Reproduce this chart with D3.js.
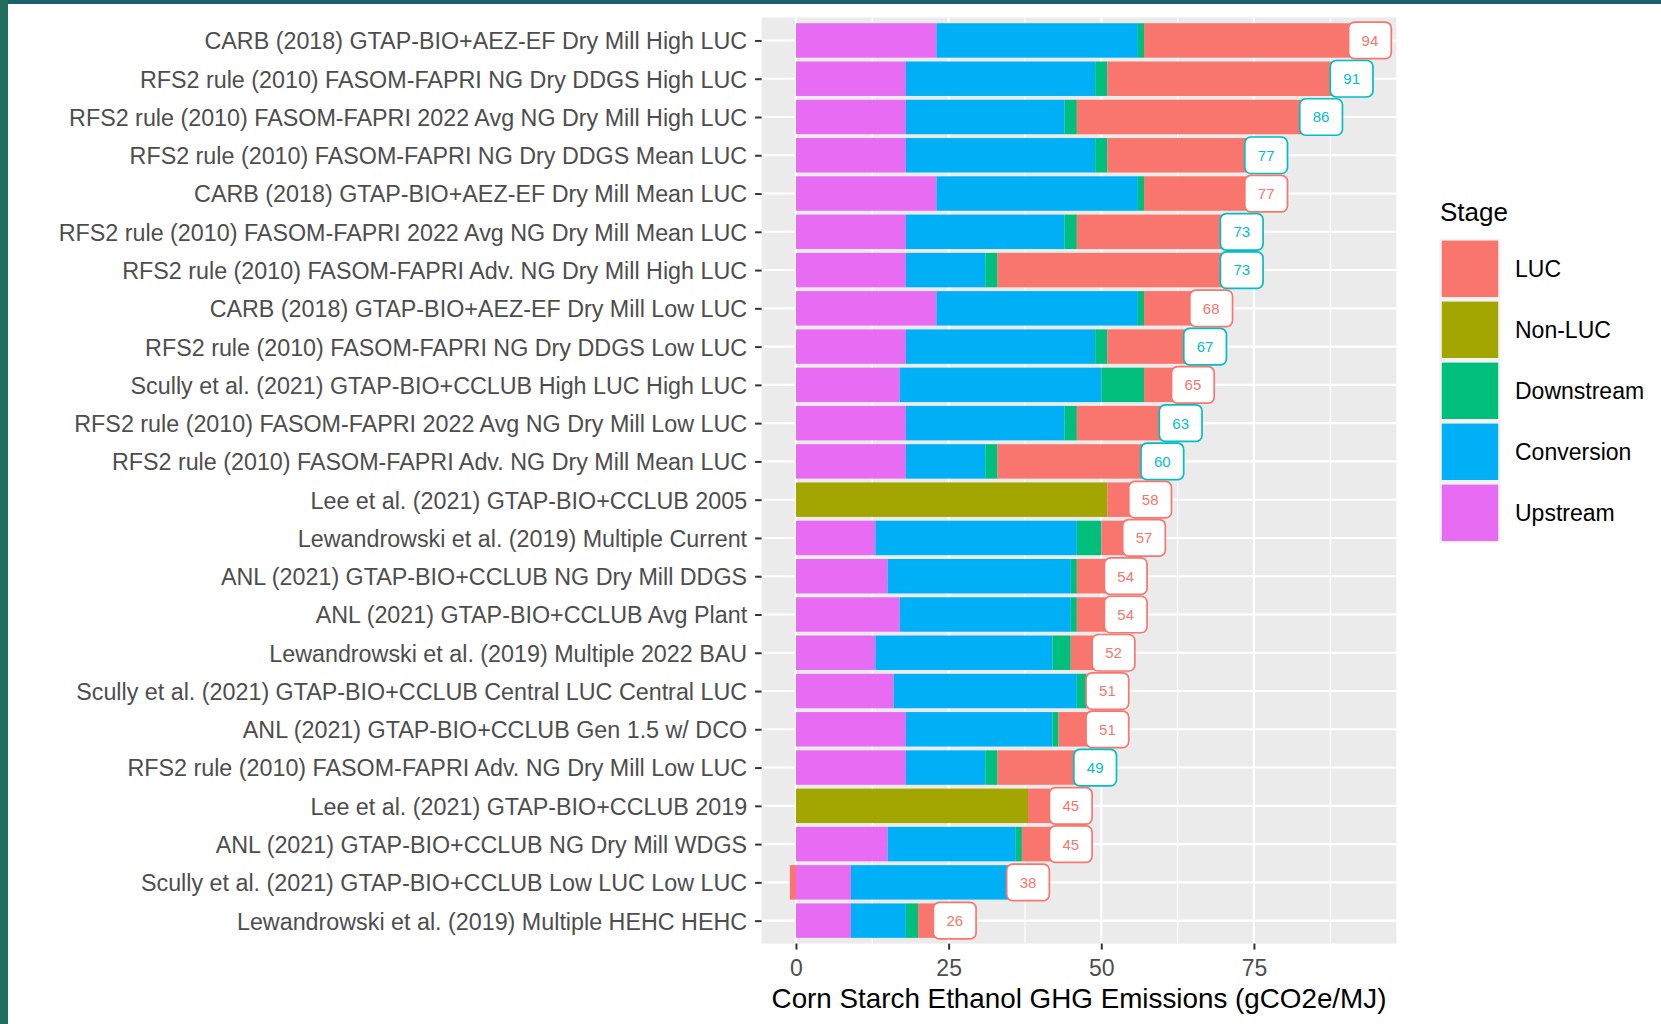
<!DOCTYPE html>
<html><head><meta charset="utf-8">
<script src="https://cdn.jsdelivr.net/npm/d3@7"></script>
<style>
body{margin:0;background:#fff}
svg{display:block;font-family:"Liberation Sans",Arial,sans-serif}
</style>
</head><body><svg id="c" width="1661" height="1024"></svg>
<script>
// ---------------- DATA ----------------
const categories = [
  "CARB (2018) GTAP-BIO+AEZ-EF Dry Mill High LUC",
  "RFS2 rule (2010) FASOM-FAPRI NG Dry DDGS High LUC",
  "RFS2 rule (2010) FASOM-FAPRI 2022 Avg NG Dry Mill High LUC",
  "RFS2 rule (2010) FASOM-FAPRI NG Dry DDGS Mean LUC",
  "CARB (2018) GTAP-BIO+AEZ-EF Dry Mill Mean LUC",
  "RFS2 rule (2010) FASOM-FAPRI 2022 Avg NG Dry Mill Mean LUC",
  "RFS2 rule (2010) FASOM-FAPRI Adv. NG Dry Mill High LUC",
  "CARB (2018) GTAP-BIO+AEZ-EF Dry Mill Low LUC",
  "RFS2 rule (2010) FASOM-FAPRI NG Dry DDGS Low LUC",
  "Scully et al. (2021) GTAP-BIO+CCLUB High LUC High LUC",
  "RFS2 rule (2010) FASOM-FAPRI 2022 Avg NG Dry Mill Low LUC",
  "RFS2 rule (2010) FASOM-FAPRI Adv. NG Dry Mill Mean LUC",
  "Lee et al. (2021) GTAP-BIO+CCLUB 2005",
  "Lewandrowski et al. (2019) Multiple Current",
  "ANL (2021) GTAP-BIO+CCLUB NG Dry Mill DDGS",
  "ANL (2021) GTAP-BIO+CCLUB Avg Plant",
  "Lewandrowski et al. (2019) Multiple 2022 BAU",
  "Scully et al. (2021) GTAP-BIO+CCLUB Central LUC Central LUC",
  "ANL (2021) GTAP-BIO+CCLUB Gen 1.5 w/ DCO",
  "RFS2 rule (2010) FASOM-FAPRI Adv. NG Dry Mill Low LUC",
  "Lee et al. (2021) GTAP-BIO+CCLUB 2019",
  "ANL (2021) GTAP-BIO+CCLUB NG Dry Mill WDGS",
  "Scully et al. (2021) GTAP-BIO+CCLUB Low LUC Low LUC",
  "Lewandrowski et al. (2019) Multiple HEHC HEHC"
];
const upstream   = [23,18,18,18,23,18,18,23,18,17,18,18, 0,13,15,17,13,16,18,18, 0,15, 9, 9];
const conversion = [33,31,26,31,33,26,13,33,31,33,26,13, 0,33,30,28,29,30,24,13, 0,21,28.5,9];
const downstream = [ 1, 2, 2, 2, 1, 2, 2, 1, 2, 7, 2, 2, 0, 4, 1, 1, 3,1.5,1, 2, 0, 1,1.5,2];
const nonLUC     = [ 0, 0, 0, 0, 0, 0, 0, 0, 0, 0, 0, 0,51, 0, 0, 0, 0, 0, 0, 0,38, 0, 0, 0];
const luc        = [37,40,40,26,20,27,40,11,16, 8,17,27, 7, 7, 8, 8, 7,3.5,8,16, 7, 8,-1, 6];
const labelGroup = ["Other","RFS2","RFS2","RFS2","Other","RFS2","RFS2","Other","RFS2","Other","RFS2","RFS2",
                    "Other","Other","Other","Other","Other","Other","Other","RFS2","Other","Other","Other","Other"];

const stages = ["LUC","Non-LUC","Downstream","Conversion","Upstream"];
const stageColors = ["#F8766D","#A3A500","#00BF7D","#00B0F6","#E76BF3"];
const stackOrder = ["Upstream","Conversion","Downstream","Non-LUC","LUC"];
const labelColors = {Other:"#F8766D", RFS2:"#00BFC4"};
const xTicks = [0,25,50,75];
const xMinorTicks = [12.5,37.5,62.5,87.5];
const xDomain = [-5.63, 98.33];
const xTitle = "Corn Starch Ethanol GHG Emissions (gCO2e/MJ)";
const legendTitle = "Stage";

// ---------------- LAYOUT ----------------
const svg = d3.select("#c");
const P = {l:761.6, r:1396.4, t:17.5, b:943.6};

svg.append("rect").attr("x",0).attr("y",0).attr("width",1661).attr("height",1024).attr("fill","#fff");
svg.append("rect").attr("x",0).attr("y",0).attr("width",1661).attr("height",4).attr("fill","#1b5f68");
svg.append("rect").attr("x",0).attr("y",0).attr("width",8).attr("height",1024).attr("fill","#216e5e");

const rows = categories.map((c,i)=>({
  cat:c, "Upstream":upstream[i], "Conversion":conversion[i], "Downstream":downstream[i],
  "Non-LUC":nonLUC[i], "LUC":luc[i], group:labelGroup[i],
  total: upstream[i]+conversion[i]+downstream[i]+nonLUC[i]+luc[i]
}));

const x = d3.scaleLinear().domain(xDomain).range([P.l,P.r]);
const y = d3.scalePoint().domain(categories).range([P.t,P.b]).padding(0.6);
const barH = y.step()*0.9;
const color = d3.scaleOrdinal().domain(stages).range(stageColors);

// panel
svg.append("rect").attr("x",P.l).attr("y",P.t).attr("width",P.r-P.l).attr("height",P.b-P.t).attr("fill","#EBEBEB");
const grid = svg.append("g");
grid.selectAll(".mn").data(xMinorTicks).join("line")
  .attr("x1",d=>x(d)).attr("x2",d=>x(d)).attr("y1",P.t).attr("y2",P.b)
  .attr("stroke","#fff").attr("stroke-width",1.1);
grid.selectAll(".mj").data(xTicks).join("line")
  .attr("x1",d=>x(d)).attr("x2",d=>x(d)).attr("y1",P.t).attr("y2",P.b)
  .attr("stroke","#fff").attr("stroke-width",2.1);
grid.selectAll(".hy").data(categories).join("line")
  .attr("x1",P.l).attr("x2",P.r).attr("y1",d=>y(d)).attr("y2",d=>y(d))
  .attr("stroke","#fff").attr("stroke-width",2.1);

// bars
const series = d3.stack().keys(stackOrder).offset(d3.stackOffsetDiverging)(rows);
svg.append("g").selectAll("g").data(series).join("g")
  .attr("fill",s=>color(s.key))
  .selectAll("rect").data(s=>s).join("rect")
  .attr("x",d=>x(Math.min(d[0],d[1])))
  .attr("width",d=>Math.abs(x(d[1])-x(d[0])))
  .attr("y",d=>y(d.data.cat)-barH/2)
  .attr("height",barH);

// labels
const lab = svg.append("g").selectAll("g").data(rows).join("g")
  .attr("transform",d=>`translate(${x(d.total)},${y(d.cat)})`);
lab.each(function(d){
  const g = d3.select(this);
  const c = labelColors[d.group];
  const t = g.append("text").text(Math.round(d.total))
    .attr("text-anchor","middle").attr("dy","0.36em")
    .attr("font-size",15).attr("fill",c);
  const w = t.node().getComputedTextLength()+26, h = 36.5;
  g.insert("rect","text").attr("x",-w/2).attr("y",-h/2).attr("width",w).attr("height",h)
    .attr("rx",6).attr("ry",6).attr("fill","#fff").attr("stroke",c).attr("stroke-width",1.7);
});

// axes
const ya = svg.append("g").attr("transform",`translate(${P.l},0)`)
  .call(d3.axisLeft(y).tickSize(6.5).tickPadding(8));
ya.select(".domain").remove();
ya.selectAll(".tick line").attr("stroke","#333").attr("stroke-width",2);
ya.selectAll(".tick text").attr("fill","#4D4D4D").attr("font-size",23.3).attr("dy","0.36em")
  .attr("font-family",'"Liberation Sans",Arial,sans-serif');

const xa = svg.append("g").attr("transform",`translate(0,${P.b})`)
  .call(d3.axisBottom(x).tickValues(xTicks).tickSize(6).tickPadding(10));
xa.select(".domain").remove();
xa.selectAll(".tick line").attr("stroke","#333").attr("stroke-width",2);
xa.selectAll(".tick text").attr("fill","#4D4D4D").attr("font-size",23)
  .attr("font-family",'"Liberation Sans",Arial,sans-serif');

svg.append("text").attr("x",(P.l+P.r)/2).attr("y",1008).attr("text-anchor","middle")
  .attr("font-size",27.8).attr("fill","#000").text(xTitle);

// legend
const L = {x:1439.5, y:238.3, k:61};
svg.append("text").attr("x",1440).attr("y",221).attr("font-size",26).attr("fill","#000").text(legendTitle);
svg.append("rect").attr("x",L.x).attr("y",L.y).attr("width",L.k).attr("height",L.k*stages.length).attr("fill","#F2F2F2");
const li = svg.append("g").selectAll("g").data(stages).join("g")
  .attr("transform",(d,i)=>`translate(${L.x},${L.y+i*L.k})`);
li.append("rect").attr("x",2.3).attr("y",2.3).attr("width",L.k-4.6).attr("height",L.k-4.6).attr("fill",d=>color(d));
li.append("text").attr("x",75.5).attr("y",L.k/2).attr("dy","0.36em").attr("font-size",23).attr("fill","#000").text(d=>d);
</script>
</body></html>
